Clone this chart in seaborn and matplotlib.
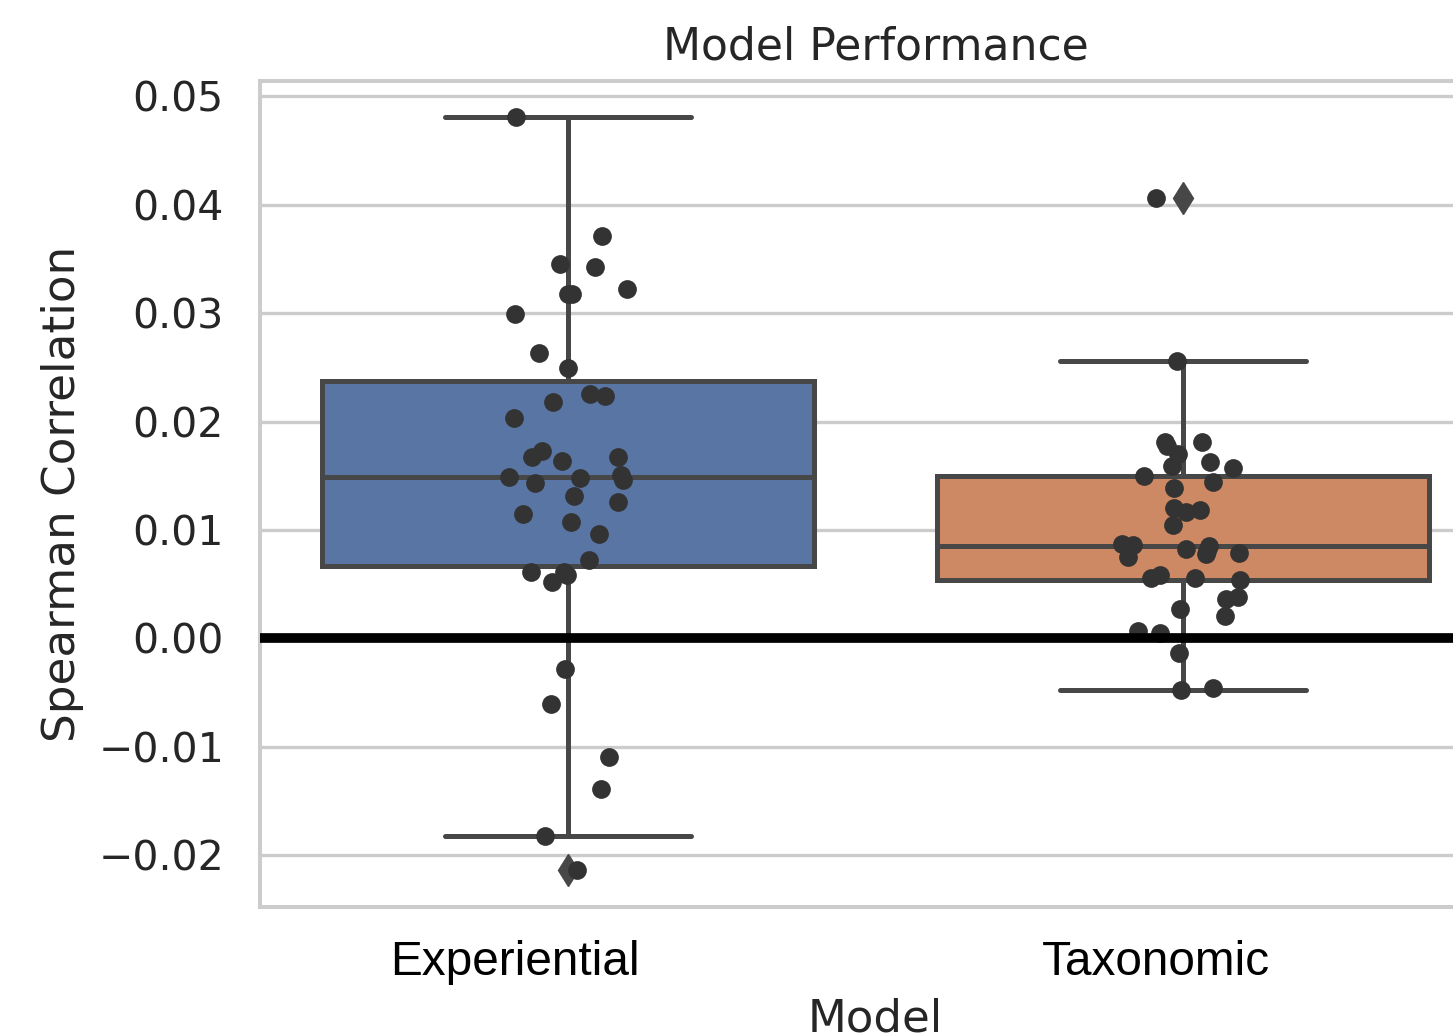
import matplotlib
matplotlib.use("Agg")
import matplotlib.pyplot as plt
import matplotlib.transforms as mtransforms
import numpy as np
import pandas as pd
import seaborn as sns


### Data ###

models = ["Experiential", "Taxonomic"]

experiential = [
    0.0481, 0.0371, 0.0345, 0.0343, 0.0322, 0.0318, 0.0318, 0.0299, 0.0263,
    0.0249, 0.0225, 0.0224, 0.0218, 0.0203, 0.0173, 0.0167, 0.0167, 0.0164,
    0.0151, 0.0149, 0.0148, 0.0146, 0.0143, 0.0131, 0.0126, 0.0115, 0.0107,
    0.0096, 0.0072, 0.0061, 0.0061, 0.0058, 0.0052, -0.0028, -0.0061,
    -0.0110, -0.0139, -0.0182, -0.0214,
]

taxonomic = [
    0.0406, 0.0256, 0.0181, 0.0181, 0.0177, 0.0170, 0.0163, 0.0159, 0.0157,
    0.0150, 0.0144, 0.0139, 0.0120, 0.0118, 0.0117, 0.0105, 0.0087, 0.0086,
    0.0085, 0.0082, 0.0081, 0.0079, 0.0078, 0.0075, 0.0058, 0.0056, 0.0056,
    0.0054, 0.0038, 0.0036, 0.0027, 0.0021, 0.0007, 0.0005, -0.0014,
    -0.0046, -0.0048,
]

y_ticks = [-0.02, -0.01, 0.00, 0.01, 0.02, 0.03, 0.04, 0.05]

df = pd.DataFrame({
    "Model": [models[0]] * len(experiential) + [models[1]] * len(taxonomic),
    "Spearman Correlation": experiential + taxonomic,
})


### Plot ###

sns.set_theme(style="whitegrid")
plt.rcParams.update({
    "axes.edgecolor": "#cccccc",
    "axes.linewidth": 2.9,
    "grid.color": "#cccccc",
    "grid.linewidth": 2.4,
    "text.color": "#262626",
    "axes.labelcolor": "#262626",
    "ytick.color": "#262626",
})

fig = plt.figure(figsize=(14.53, 10.36), dpi=100)
ax = fig.add_axes([0.179, 0.1245, 0.847, 0.797])   # right edge runs off the figure like the reference

line_gray = "#474747"
sns.boxplot(
    data=df, x="Model", y="Spearman Correlation", hue="Model",
    palette="deep", ax=ax, linewidth=3.6, linecolor=line_gray,
    fliersize=16.5, legend=False,
    flierprops={"marker": "d", "markerfacecolor": line_gray,
                "markeredgecolor": line_gray},
)

np.random.seed(7)
sns.stripplot(
    data=df, x="Model", y="Spearman Correlation",
    color="#333333", size=13.5, jitter=True, ax=ax,
)

ax.axhline(0, color="black", linewidth=7, zorder=3, solid_capstyle="projecting")

ax.set_xlim(-0.5, 1.5)
ax.set_ylim(-0.0248, 0.0514)
ax.set_yticks(y_ticks)
ax.tick_params(axis="y", labelsize=29.5, pad=20)

# category names sit a bit left of the box centres in the reference
ax.set_xticks(range(len(models)))
ax.set_xticklabels([])
label_shift = [-0.53, -0.27]   # inches
for i, name in enumerate(models):
    trans = (ax.get_xaxis_transform()
             + mtransforms.ScaledTranslation(label_shift[i], -0.33, fig.dpi_scale_trans))
    ax.text(i, 0, name, transform=trans, ha="center", va="top",
            fontfamily="Liberation Sans", fontsize=34.4, color="black")

ax.set_title("Model Performance", fontsize=31.8, pad=16)
ax.set_ylabel("Spearman Correlation", fontsize=32.6, labelpad=10)
ax.set_xlabel("Model", fontsize=32.5, labelpad=56)

fig.savefig("out.png", dpi=100)
